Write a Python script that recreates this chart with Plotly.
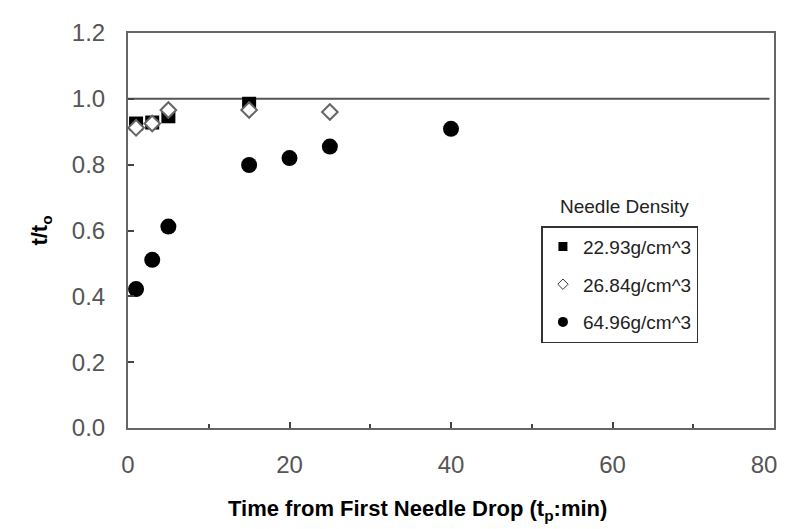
import plotly.graph_objects as go

# ---- data ----
sq_name = "22.93g/cm^3"
sq_x = [1, 3, 5, 15]
sq_y = [0.925, 0.928, 0.947, 0.985]

dm_name = "26.84g/cm^3"
dm_x = [1, 3, 5, 15, 25]
dm_y = [0.912, 0.925, 0.966, 0.966, 0.960]

ci_name = "64.96g/cm^3"
ci_x = [1, 3, 5, 15, 20, 25, 40]
ci_y = [0.422, 0.511, 0.612, 0.799, 0.820, 0.855, 0.909]

ref_level = 1.0
x_ticks = [0, 20, 40, 60, 80]
x_tick_labels = ["0", "20", "40", "60", "80\u00a0\u00a0\u00a0"]
y_ticks = [0.0, 0.2, 0.4, 0.6, 0.8, 1.0, 1.2]
y_tick_labels = ["0.0", "0.2", "0.4", "0.6", "0.8", "1.0", "1.2"]

FONT = "Liberation Sans, Arial, sans-serif"

fig = go.Figure()

# data traces (no legend)
fig.add_trace(go.Scatter(x=sq_x, y=sq_y, mode="markers", showlegend=False,
                         marker=dict(symbol="square", size=14, color="black"), name=sq_name))
fig.add_trace(go.Scatter(x=dm_x, y=dm_y, mode="markers", showlegend=False,
                         marker=dict(symbol="diamond", size=12, color="white",
                                     line=dict(color="#666666", width=2)), name=dm_name))
fig.add_trace(go.Scatter(x=ci_x, y=ci_y, mode="markers", showlegend=False,
                         marker=dict(symbol="circle", size=16, color="black"), name=ci_name))

# legend entries with small symbols
fig.add_trace(go.Scatter(x=[None], y=[None], mode="markers", name=sq_name, legendgroup="a",
                         marker=dict(symbol="square", size=9, color="black")))
fig.add_trace(go.Scatter(x=[None], y=[None], mode="markers", name=dm_name, legendgroup="b",
                         marker=dict(symbol="diamond", size=8, color="white",
                                     line=dict(color="#333333", width=1))))
fig.add_trace(go.Scatter(x=[None], y=[None], mode="markers", name=ci_name, legendgroup="c",
                         marker=dict(symbol="circle", size=10, color="black")))

fig.add_shape(type="line", xref="paper", x0=0, x1=0.993, yref="y", y0=ref_level, y1=ref_level,
              line=dict(color="#555555", width=2), layer="below")

# the page body has an 8px margin, so the figure is sized/offset to compensate
fig.update_layout(
    width=779, height=521,
    margin=dict(l=120, r=11, t=17, b=101),
    plot_bgcolor="white", paper_bgcolor="white",
    font=dict(family=FONT, color="#555555"),
    legend=dict(x=0.64, y=0.511, xanchor="left", yanchor="top",
                bordercolor="#333333", borderwidth=1.5, bgcolor="white",
                font=dict(family=FONT, size=19, color="#222222"),
                traceorder="grouped", tracegroupgap=10),
    annotations=[
        dict(text="Needle Density", xref="paper", yref="paper", x=0.7685, y=0.561,
             xanchor="center", yanchor="middle", showarrow=False,
             font=dict(family=FONT, size=19, color="#222222")),
        dict(text="Time from First Needle Drop (t<sub>p</sub>:min)", xref="paper", yref="paper",
             x=0.4475, y=-0.208, xanchor="center", yanchor="middle", showarrow=False,
             font=dict(family=FONT, size=22, color="black", weight="bold")),
    ],
)

fig.update_xaxes(range=[0, 80], tickvals=x_ticks, ticktext=x_tick_labels, ticks="inside",
                 ticklen=6, tickwidth=2,
                 tickcolor="#444444", showgrid=False, zeroline=False,
                 showline=True, linecolor="#666666", linewidth=2, mirror=True,
                 minor=dict(dtick=10, ticks="inside", ticklen=4, tickwidth=2, tickcolor="#444444"),
                 tickfont=dict(family=FONT, size=24, color="#555555"), ticklabelstandoff=14,
                 ticklabeloverflow="allow", automargin=False)
fig.update_yaxes(range=[0, 1.2], tickvals=y_ticks, ticktext=y_tick_labels, ticks="inside",
                 ticklen=6, tickwidth=2, tickcolor="#444444", showgrid=False, zeroline=False,
                 showline=True, linecolor="#666666", linewidth=2, mirror=True,
                 tickfont=dict(family=FONT, size=24, color="#555555"), ticklabelstandoff=16,
                 title=dict(text="t/t<sub>o</sub>", standoff=18,
                            font=dict(family=FONT, size=22, color="black", weight="bold")))

fig.write_html("out.html")
